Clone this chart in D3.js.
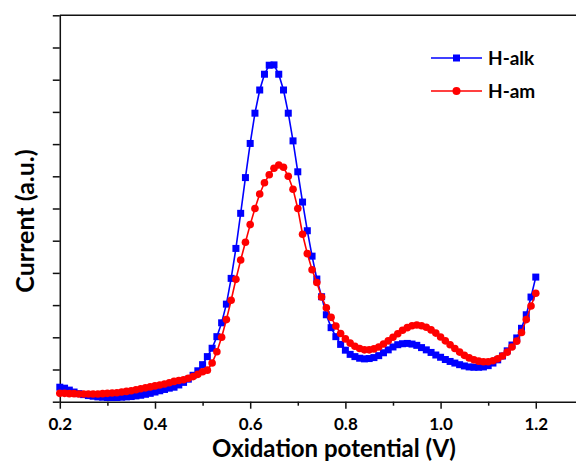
<!DOCTYPE html>
<html>
<head>
<meta charset="utf-8">
<script src="https://cdn.jsdelivr.net/npm/d3@7"></script>
<style>
  body { margin: 0; background: #fff; }
  svg { display: block; font-family: Lato, "Open Sans", sans-serif; }
  .axis path, .axis line { stroke: #111; stroke-width: 1.5; }
  .axis text { font-size: 17px; font-weight: bold; fill: #000; font-family: Lato, sans-serif; }
</style>
</head>
<body>
<svg width="576" height="463"></svg>
<script>
// Potential (V), one point every 0.01 V from 0.2 to 1.2
var potential = d3.range(101).map(function(i) { return +(0.2 + i * 0.01).toFixed(2); });

// H-alk current (a.u.)
var hAlk = [
  0.45, 0.42, 0.36, 0.30, 0.25, 0.22, 0.19, 0.17, 0.15, 0.14,
  0.13, 0.13, 0.13, 0.14, 0.15, 0.16, 0.18, 0.20, 0.23, 0.26,
  0.30, 0.34, 0.38, 0.42, 0.45, 0.52, 0.60, 0.70, 0.82, 0.96,
  1.15, 1.40, 1.66, 2.02, 2.45, 3.03, 3.83, 4.76, 5.85, 6.96,
  8.02, 8.96, 9.68, 10.17, 10.45, 10.46, 10.17, 9.68, 8.96, 8.10,
  7.14, 6.20, 5.31, 4.52, 3.81, 3.26, 2.70, 2.30, 2.02, 1.78,
  1.60, 1.47, 1.40, 1.35, 1.33, 1.34, 1.37, 1.43, 1.52, 1.61,
  1.70, 1.77, 1.80, 1.81, 1.79, 1.75, 1.68, 1.61, 1.53, 1.45,
  1.38, 1.31, 1.25, 1.20, 1.15, 1.11, 1.08, 1.07, 1.07, 1.08,
  1.12, 1.20, 1.30, 1.42, 1.58, 1.76, 1.98, 2.28, 2.70, 3.25,
  3.87
];

// H-am current (a.u.)
var hAm = [
  0.26, 0.26, 0.25, 0.25, 0.24, 0.24, 0.24, 0.24, 0.24, 0.25,
  0.26, 0.27, 0.28, 0.30, 0.32, 0.34, 0.37, 0.40, 0.43, 0.46,
  0.49, 0.52, 0.55, 0.59, 0.63, 0.66, 0.68, 0.73, 0.78, 0.85,
  0.93, 0.98, 1.20, 1.55, 2.00, 2.55, 3.15, 3.80, 4.40, 4.95,
  5.50, 6.00, 6.45, 6.80, 7.05, 7.25, 7.35, 7.28, 7.00, 6.60,
  6.00, 5.20, 4.60, 4.10, 3.70, 3.25, 2.92, 2.62, 2.35, 2.12,
  1.95, 1.82, 1.72, 1.65, 1.61, 1.61, 1.64, 1.70, 1.79, 1.89,
  2.00, 2.11, 2.22, 2.30, 2.36, 2.38, 2.36, 2.31, 2.23, 2.13,
  2.01, 1.89, 1.77, 1.65, 1.54, 1.44, 1.36, 1.30, 1.26, 1.24,
  1.24, 1.27, 1.33, 1.42, 1.54, 1.70, 1.88, 2.15, 2.55, 2.97,
  3.37
];

var xMajorTicks = [0.2, 0.4, 0.6, 0.8, 1.0, 1.2];
var xMinorTicks = [0.3, 0.5, 0.7, 0.9, 1.1];
var yTicks = d3.range(0, 13);

var series = [
  { name: "H-alk", values: hAlk, color: "#0000ff", shape: "square" },
  { name: "H-am", values: hAm, color: "#ff0000", shape: "circle" }
];

var svg = d3.select("svg");

var x = d3.scaleLinear()
    .domain([0.2, 1.2845])
    .range([59.8, 576]);

var y = d3.scaleLinear()
    .domain([0, 12])
    .range([401.7, 15.3]);

// Axes
svg.append("g")
    .attr("class", "axis")
    .attr("transform", "translate(0," + y(0) + ")")
    .call(d3.axisBottom(x).tickValues(xMinorTicks).tickSize(4).tickFormat(""))
    .select(".domain").remove();

svg.append("g")
    .attr("class", "axis")
    .attr("transform", "translate(0," + y(0) + ")")
    .call(d3.axisBottom(x).tickValues(xMajorTicks).tickSize(7).tickSizeOuter(0).tickPadding(9)
        .tickFormat(d3.format(".1f")));

svg.append("g")
    .attr("class", "axis")
    .attr("transform", "translate(" + x(0.2) + ",0)")
    .call(d3.axisLeft(y).tickValues(yTicks).tickSize(7).tickSizeOuter(0).tickFormat(""));

// top frame line
svg.append("line")
    .attr("x1", x(0.2)).attr("x2", 576)
    .attr("y1", y(12)).attr("y2", y(12))
    .style("stroke", "#111").style("stroke-width", 1.5);

// Axis titles
svg.append("text")
    .attr("x", 334)
    .attr("y", 457)
    .attr("text-anchor", "middle")
    .style("font-size", "24px")
    .style("font-weight", "bold")
    .text("Oxidation potential (V)");

svg.append("text")
    .attr("transform", "translate(34,221) rotate(-90)")
    .attr("text-anchor", "middle")
    .style("font-size", "25px")
    .style("font-weight", "bold")
    .text("Current (a.u.)");

// Lines and markers
var line = d3.line()
    .x(function(d, i) { return x(potential[i]); })
    .y(function(d) { return y(d); });

series.forEach(function(s) {
  var g = svg.append("g");
  g.append("path")
      .datum(s.values)
      .attr("d", line)
      .style("fill", "none")
      .style("stroke", s.color)
      .style("stroke-width", 1.6);

  if (s.shape === "square") {
    g.selectAll("rect")
        .data(s.values)
        .enter()
        .append("rect")
        .attr("x", function(d, i) { return x(potential[i]) - 3.5; })
        .attr("y", function(d) { return y(d) - 3.5; })
        .attr("width", 7)
        .attr("height", 7)
        .style("fill", s.color);
  } else {
    g.selectAll("circle")
        .data(s.values)
        .enter()
        .append("circle")
        .attr("cx", function(d, i) { return x(potential[i]); })
        .attr("cy", function(d) { return y(d); })
        .attr("r", 3.8)
        .style("fill", s.color);
  }
});

// Legend
var legend = svg.selectAll(".legend")
    .data(series)
    .enter()
    .append("g")
    .attr("class", "legend")
    .attr("transform", function(d, i) { return "translate(431," + (58 + i * 33) + ")"; });

legend.append("line")
    .attr("x1", 0).attr("x2", 51)
    .style("stroke", function(d) { return d.color; })
    .style("stroke-width", 1.6);

legend.each(function(d) {
  var g = d3.select(this);
  if (d.shape === "square") {
    g.append("rect").attr("x", 22).attr("y", -3.5).attr("width", 7).attr("height", 7).style("fill", d.color);
  } else {
    g.append("circle").attr("cx", 25.5).attr("r", 4).style("fill", d.color);
  }
});

legend.append("text")
    .attr("x", 57)
    .attr("y", 6.8)
    .style("font-size", "19px")
    .style("font-weight", "bold")
    .text(function(d) { return d.name; });
</script>
</body>
</html>
